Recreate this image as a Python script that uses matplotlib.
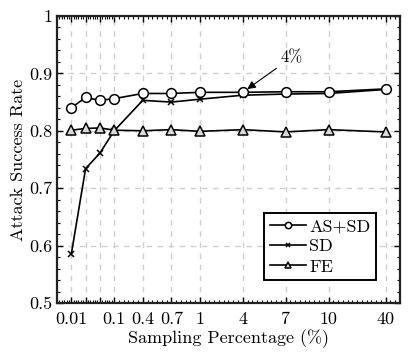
import numpy as np
import matplotlib
matplotlib.use("Agg")
import matplotlib.pyplot as plt

plt.rcParams['font.family'] = 'serif'
plt.rcParams['font.serif'] = ['cmr10', 'DejaVu Serif']
plt.rcParams['mathtext.fontset'] = 'cm'
plt.rcParams['axes.formatter.use_mathtext'] = True

# data
sampling_labels = ['0.01', '', '', '0.1', '0.4', '0.7', '1', '4', '7', '10', '40']
as_sd = [0.840, 0.858, 0.853, 0.856, 0.865, 0.865, 0.867, 0.867, 0.868, 0.868, 0.873]
sd = [0.585, 0.734, 0.761, 0.800, 0.853, 0.850, 0.855, 0.862, 0.864, 0.865, 0.872]
fe = [0.801, 0.804, 0.805, 0.801, 0.800, 0.802, 0.799, 0.802, 0.798, 0.802, 0.798]

# layout (horizontal placement of categories)
x_pos = [0, 1, 2, 3, 5, 7, 9, 12, 15, 18, 22]

fig = plt.figure(figsize=(4.16, 3.55), dpi=100)
ax = fig.add_axes([0.137, 0.1465, 0.8245, 0.8085])

lw = 1.2
ax.plot(x_pos, as_sd, color='black', lw=lw, marker='o', ms=7, mfc='white', mec='black', mew=1.1, label='AS+SD', zorder=4)
ax.plot(x_pos, sd, color='black', lw=lw, marker='x', ms=5, mew=1.1, label='SD', zorder=3)
ax.plot(x_pos, fe, color='black', lw=lw, marker='^', ms=7.5, mfc='#d9d9d9', mec='black', mew=1.1, label='FE', zorder=3)

ax.set_xlim(-1, 23)
ax.set_ylim(0.5, 1.0)
ax.set_xticks(x_pos)
ax.set_xticklabels(sampling_labels)
ax.set_yticks([0.5, 0.6, 0.7, 0.8, 0.9, 1.0])
ax.set_yticklabels(['0.5', '0.6', '0.7', '0.8', '0.9', '1'])

# minor ticks
minor_x = list(np.arange(-1, 3, 1/6)) + list(np.arange(3, 23, 1/3))
ax.set_xticks(minor_x, minor=True)
ax.set_yticks(np.arange(0.5, 1.0001, 0.02), minor=True)

ax.tick_params(axis='both', which='both', direction='in', top=True, right=True, labelsize=13)
ax.tick_params(which='major', length=4, width=1)
ax.tick_params(which='minor', length=2, width=0.8)
ax.tick_params(axis='x', which='major', pad=6)

ax.grid(True, which='major', color='#cfcfcf', linestyle=(0, (4, 4)), lw=1.0)
ax.set_axisbelow(True)

for s in ax.spines.values():
    s.set_linewidth(1.6)
    s.set_color('#222222')

ax.set_xlabel('Sampling Percentage (%)', fontsize=13, labelpad=2)
ax.set_ylabel('Attack Success Rate', fontsize=13, labelpad=2)

ax.annotate('4%', xy=(x_pos[7], as_sd[7]), xytext=(35, 25), textcoords='offset points',
            ha='center', va='center', fontsize=12,
            arrowprops=dict(arrowstyle='-|>', color='black', lw=0.8, shrinkA=1, shrinkB=4,
                            mutation_scale=12))

leg = ax.legend(loc='lower right', bbox_to_anchor=(0.93, 0.08), fontsize=13, frameon=True,
                fancybox=False, edgecolor='black', markerscale=0.65, handlelength=2.0,
                handletextpad=0.2, borderpad=0.3, labelspacing=0.25, borderaxespad=0.0)
leg.get_frame().set_linewidth(1.4)
leg.get_frame().set_alpha(1)

fig.savefig('out.png', dpi=100)
